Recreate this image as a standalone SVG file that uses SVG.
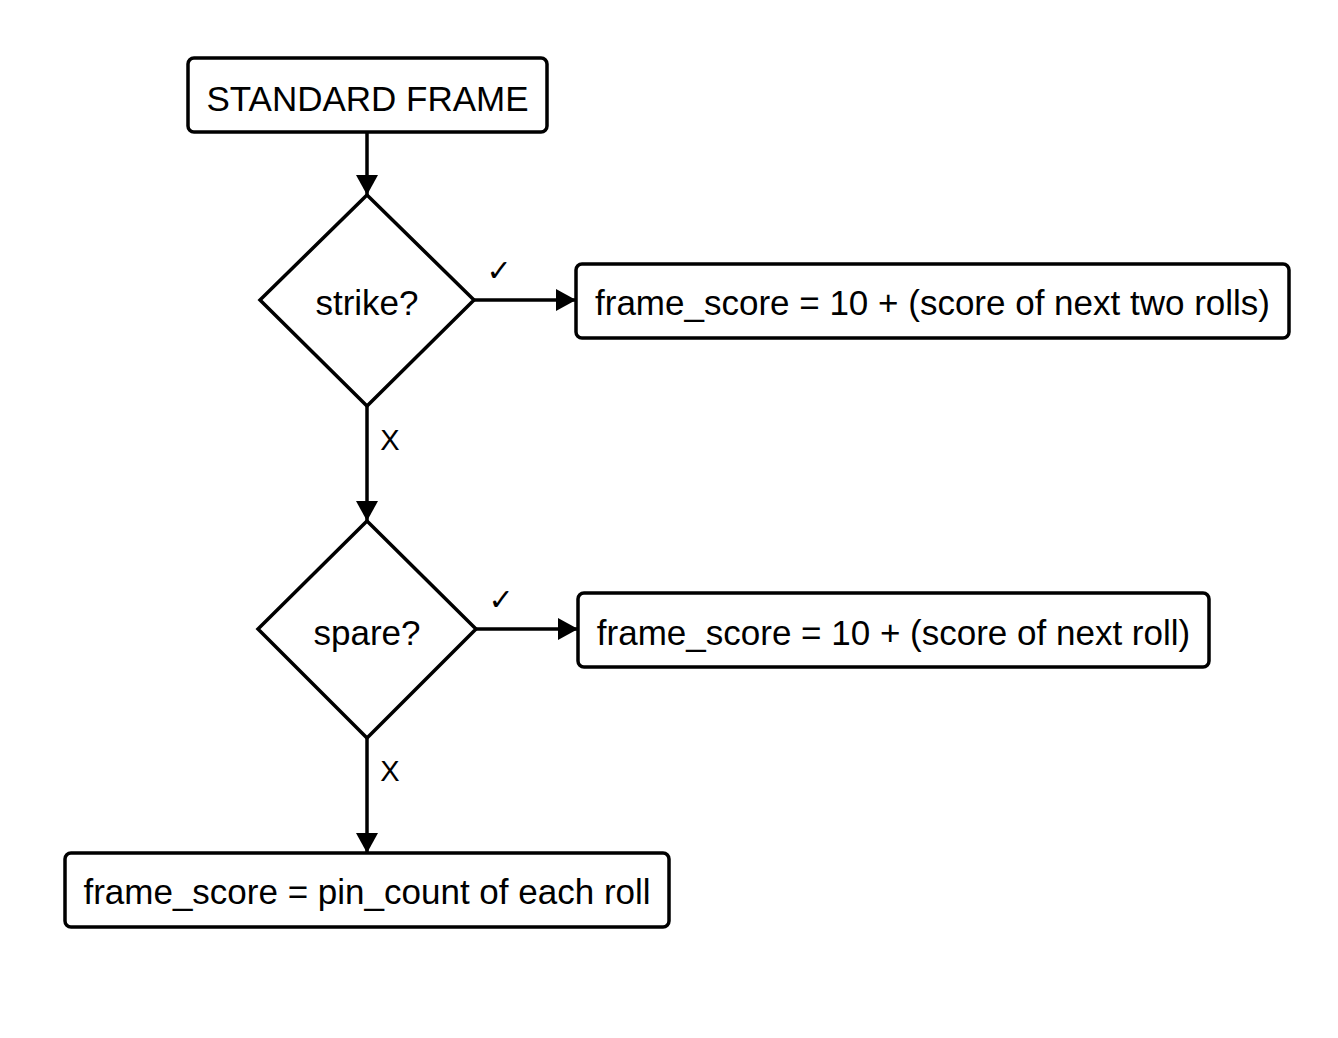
<svg xmlns="http://www.w3.org/2000/svg" width="1338" height="1038" viewBox="0 0 1338 1038">
<style>
.box{fill:#fff;stroke:#000;stroke-width:3.5}
.lbl{font-family:"Liberation Sans",Arial,sans-serif;font-size:35px;fill:#000;text-anchor:middle;dominant-baseline:central}
.edge{stroke:#000;stroke-width:3.5;fill:none}
.el{font-family:"Liberation Sans",Arial,sans-serif;font-size:29px;fill:#000;text-anchor:middle;dominant-baseline:central}
.ck{font-family:"DejaVu Sans",sans-serif;font-size:30px;font-weight:bold;fill:#000;text-anchor:middle;dominant-baseline:central}
</style>
<defs>
<marker id="ah" markerUnits="userSpaceOnUse" markerWidth="24" markerHeight="24" viewBox="0 0 24 24" refX="22" refY="12" orient="auto">
<path d="M2,1 L22,12 L2,23 Z" fill="#000"/>
</marker>
</defs>
<rect width="1338" height="1038" fill="#fff"/>
<g id="connectors">
<line class="edge" x1="367" y1="132" x2="367" y2="195" marker-end="url(#ah)"/>
<line class="edge" x1="474" y1="300" x2="576" y2="300" marker-end="url(#ah)"/>
<text class="ck" x="499" y="270">✓</text>
<line class="edge" x1="367" y1="406" x2="367" y2="521" marker-end="url(#ah)"/>
<text class="el" x="390" y="440">X</text>
<line class="edge" x1="476" y1="629" x2="578" y2="629" marker-end="url(#ah)"/>
<text class="ck" x="501" y="599">✓</text>
<line class="edge" x1="367" y1="738" x2="367" y2="853" marker-end="url(#ah)"/>
<text class="el" x="390" y="771">X</text>
</g>
<g id="start">
<rect class="box" x="188" y="58" width="359" height="74" rx="6"/>
<text class="lbl" x="367.5" y="98">STANDARD FRAME</text>
</g>
<g id="strike">
<polygon class="box" points="367,195 474,300 367,406 260,300"/>
<text class="lbl" x="367" y="302">strike?</text>
</g>
<g id="strike_score">
<rect class="box" x="576" y="264" width="713" height="74" rx="6"/>
<text class="lbl" x="932.5" y="302">frame_score = 10 + (score of next two rolls)</text>
</g>
<g id="spare">
<polygon class="box" points="367,521 476,629 367,738 258,629"/>
<text class="lbl" x="367" y="632">spare?</text>
</g>
<g id="spare_score">
<rect class="box" x="578" y="593" width="631" height="74" rx="6"/>
<text class="lbl" x="893.5" y="632">frame_score = 10 + (score of next roll)</text>
</g>
<g id="open_score">
<rect class="box" x="65" y="853" width="604" height="74" rx="6"/>
<text class="lbl" x="367" y="891">frame_score = pin_count of each roll</text>
</g>
</svg>
